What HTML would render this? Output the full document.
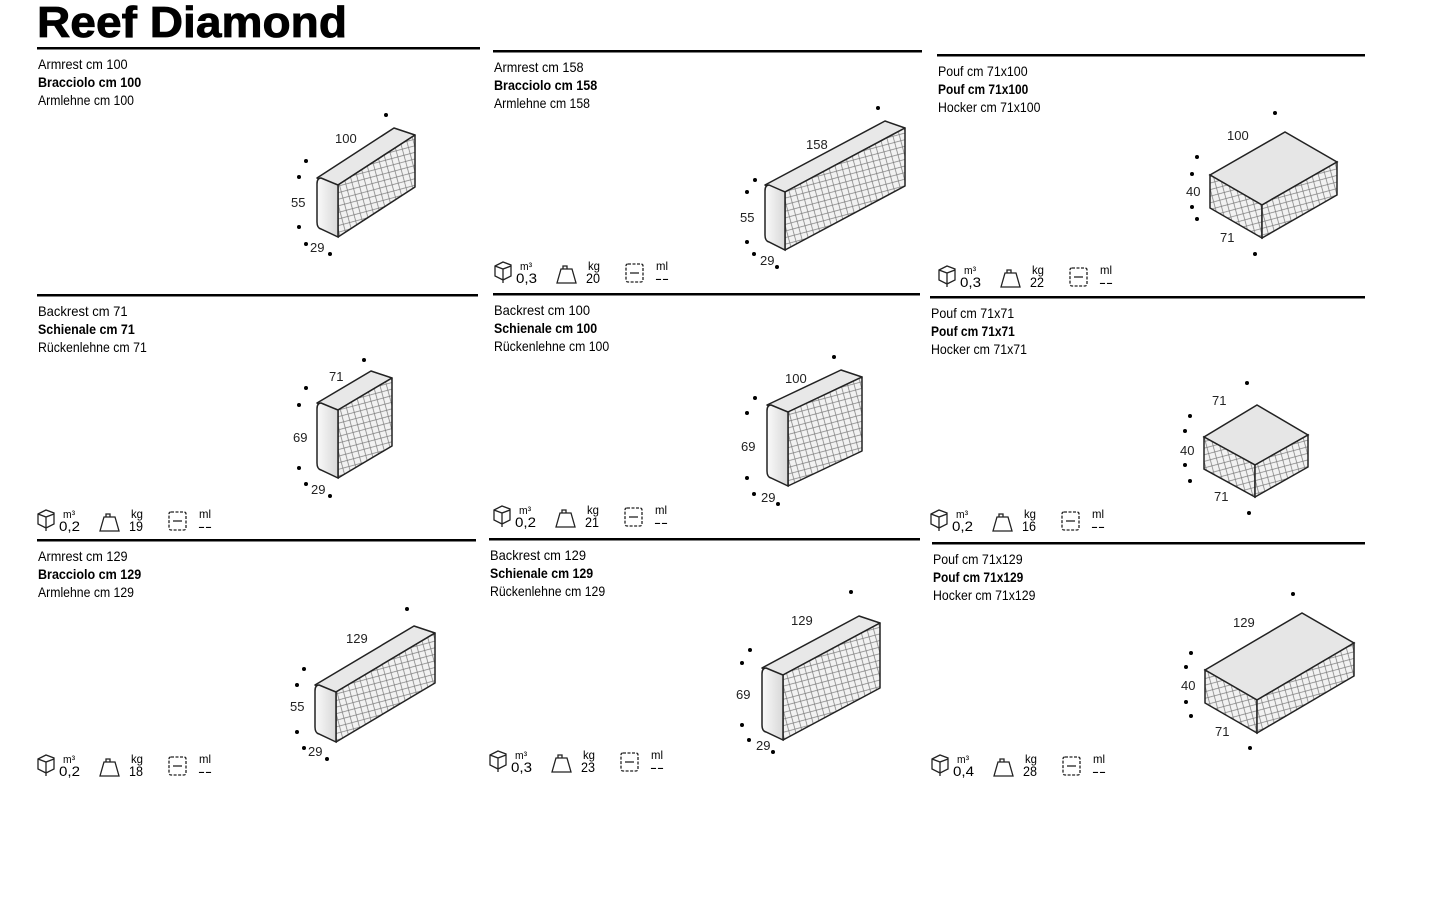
<!DOCTYPE html>
<html><head><meta charset="utf-8"><style>
body{margin:0;width:1440px;height:900px;background:#fff;overflow:hidden;font-family:"Liberation Sans",Arial,sans-serif;}
svg{position:absolute;left:0;top:0}
</style></head><body>
<svg id="s" width="1440" height="900" xmlns="http://www.w3.org/2000/svg">
<defs>
<pattern id="q" width="9" height="9" patternUnits="userSpaceOnUse" patternTransform="rotate(30)">
<rect width="9" height="9" fill="#f2f2f2"/>
<path d="M0 0L9 9M9 0L0 9" stroke="#777" stroke-width="0.7"/>
</pattern>
<linearGradient id="g" x1="0" x2="1"><stop offset="0" stop-color="#fafafa"/><stop offset="1" stop-color="#d8d8d8"/></linearGradient>
</defs>
<text x="37" y="37" font-size="44" font-weight="bold" font-family="Liberation Sans, Arial, sans-serif" stroke="#000" stroke-width="0.8" textLength="310" lengthAdjust="spacingAndGlyphs">Reef Diamond</text>
</svg>
<script>
const s=document.getElementById('s');let h='';
const panels=[
[37,480,48,["Armrest cm 100","Bracciolo cm 100","Armlehne cm 100"]],
[493,922,51,["Armrest cm 158","Bracciolo cm 158","Armlehne cm 158"]],
[937,1365,55,["Pouf cm 71x100","Pouf cm 71x100","Hocker cm 71x100"]],
[37,478,295,["Backrest cm 71","Schienale cm 71","Rückenlehne cm 71"]],
[493,920,294,["Backrest cm 100","Schienale cm 100","Rückenlehne cm 100"]],
[930,1365,297,["Pouf cm 71x71","Pouf cm 71x71","Hocker cm 71x71"]],
[37,476,540,["Armrest cm 129","Bracciolo cm 129","Armlehne cm 129"]],
[489,920,539,["Backrest cm 129","Schienale cm 129","Rückenlehne cm 129"]],
[932,1365,543,["Pouf cm 71x129","Pouf cm 71x129","Hocker cm 71x129"]]];
panels.forEach(p=>{h+=`<rect x="${p[0]}" y="${p[2]-1}" width="${p[1]-p[0]}" height="2.5" fill="#000"/>`;
p[3].forEach((t,i)=>h+=`<text x="${p[0]+1}" y="${p[2]+21+i*18}" font-size="14" ${i==1?'font-weight="bold"':''} font-family="Liberation Sans, Arial, sans-serif" textLength="${t.length*(i==1?6.45:6.4)}" lengthAdjust="spacingAndGlyphs">${t}</text>`);});
const P=(a)=>a.map(v=>v.join(',')).join(' ');
const add=(a,b)=>[a[0]+b[0],a[1]+b[1]];
function box(O,D,L,H){const h0=[0,H];const A=O,B=add(O,D),C=add(B,L),E=add(O,L);
h+=`<polygon points="${P([A,E,C,B])}" fill="#e8e8e8" stroke="#222" stroke-width="1.5" stroke-linejoin="round"/>`;
h+=`<polygon points="${P([B,C,add(C,h0),add(B,h0)])}" fill="url(#q)" stroke="#222" stroke-width="1.5" stroke-linejoin="round"/>`;
h+=`<path d="M${A[0]+4},${A[1]} L${B[0]},${B[1]} L${B[0]},${B[1]+H} L${A[0]+4},${A[1]+H-1} Q${A[0]},${A[1]+H-2} ${A[0]},${A[1]+H-8} L${A[0]},${A[1]+6} Q${A[0]},${A[1]} ${A[0]+4},${A[1]}Z" fill="url(#g)" stroke="#222" stroke-width="1.5"/>`;}
function pouf(A,B,C,D,H){const d=[0,H];
h+=`<polygon points="${P([A,B,C,D])}" fill="#e6e6e6" stroke="#222" stroke-width="1.5"/>`;
h+=`<polygon points="${P([A,B,add(B,d),add(A,d)])}" fill="url(#q)" stroke="#222" stroke-width="1.5"/>`;
h+=`<polygon points="${P([B,C,add(C,d),add(B,d)])}" fill="url(#q)" stroke="#222" stroke-width="1.5"/>`;}
box([317,178],[21,7],[77,-50],52);
box([765,185],[20,7],[120,-64],58);
box([317,403],[21,7],[54,-32],68);
box([767,405],[21,7],[74,-35],74);
box([315,685],[21,7],[99,-59],50);
box([762,668],[21,7],[97,-52],65);
pouf([1210,175],[1262,205],[1337,162],[1285,132],33);
pouf([1204,437],[1255,465],[1308,435],[1257,405],32);
pouf([1205,670],[1257,700],[1354,643],[1302,613],33);
const dot=(x,y)=>h+=`<circle cx="${x}" cy="${y}" r="2" fill="#000"/>`;
const lab=(x,y,t)=>h+=`<text x="${x}" y="${y}" font-size="13" fill="#222" font-family="Liberation Sans, Arial, sans-serif">${t}</text>`;
[[386,115,306,161,299,177,299,227,306,244,330,254,335,143,291,207,310,252,'100','55'],
[878,108,755,180,747,192,747,242,754,254,777,267,806,149,740,222,760,265,'158','55'],
[364,360,306,388,299,405,299,468,306,484,330,496,329,381,293,442,311,494,'71','69'],
[834,357,755,398,747,413,747,478,754,494,778,504,785,383,741,451,761,502,'100','69'],
[407,609,304,669,297,685,297,732,304,748,327,759,346,643,290,711,308,756,'129','55'],
[851,592,750,650,742,663,742,725,749,740,773,752,791,625,736,699,756,750,'129','69']].forEach(a=>{for(let i=0;i<12;i+=2)dot(a[i],a[i+1]);lab(a[12],a[13],a[18]);lab(a[14],a[15],a[19]);lab(a[16],a[17],'29');});
[[1275,113,1197,157,1192,174,1192,207,1197,219,1255,254,1227,140,1186,196,1220,242,'100'],
[1247,383,1190,416,1185,431,1185,465,1190,481,1249,513,1212,405,1180,455,1214,501,'71'],
[1293,594,1191,653,1186,667,1186,702,1191,716,1250,748,1233,627,1181,690,1215,736,'129']].forEach(a=>{for(let i=0;i<12;i+=2)dot(a[i],a[i+1]);lab(a[12],a[13],a[18]);lab(a[14],a[15],'40');lab(a[16],a[17],'71');});
function icons(x,y,m,kg){
h+=`<g stroke="#222" stroke-width="1.3" fill="none"><path d="M${x},${y-8} l8,-4 l8,3 v11 l-8,4 l-8,-4z M${x},${y-8} l8,3 l8,-3 M${x+8},${y-5} v14"/>
<path d="M${x+62},${y+9} l4,-14 h11 l4,14z M${x+68},${y-5} v-3 h4 v3"/>
<rect x="${x+131}" y="${y-10}" width="17" height="18" rx="2" stroke-dasharray="3 1.5"/><path d="M${x+135},${y-1} h9"/></g>`;
const t=(xx,yy,s,z)=>h+=`<text x="${xx}" y="${yy}" font-size="${z}" font-family="Liberation Sans, Arial, sans-serif" textLength="${s.length*(z>12?7:6)}" lengthAdjust="spacingAndGlyphs">${s}</text>`;
t(x+25,y-4,'m³',11);t(x+21,y+9,m,14);t(x+93,y-4,'kg',12);t(x+91,y+9,kg,14);t(x+161,y-4,'ml',12);t(x+160,y+9,'--',14);}
icons(495,274,'0,3','20');icons(939,278,'0,3','22');
icons(38,522,'0,2','19');icons(494,518,'0,2','21');icons(931,522,'0,2','16');
icons(38,767,'0,2','18');icons(490,763,'0,3','23');icons(932,767,'0,4','28');
s.insertAdjacentHTML('beforeend',h);
</script>
</body></html>
